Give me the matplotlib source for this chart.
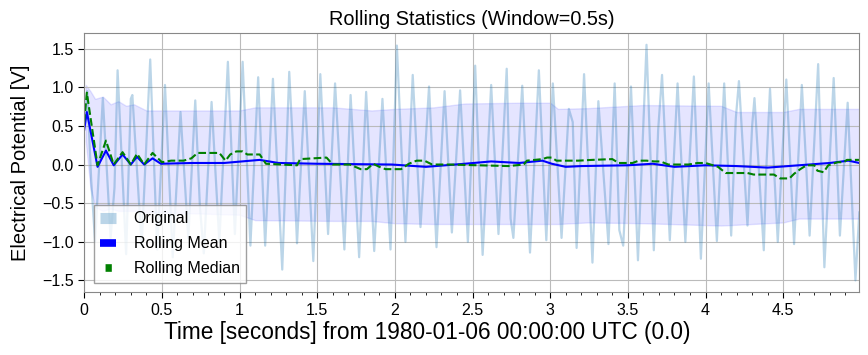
import numpy as np
import matplotlib
matplotlib.use('Agg')
import matplotlib.pyplot as plt
from matplotlib.ticker import MultipleLocator, FuncFormatter

plt.rcParams['font.family'] = ['Liberation Sans', 'DejaVu Sans']

# turning points of the raw signal (seconds, volts)
peak_t = [0.02, 0.12, 0.215, 0.31, 0.425, 0.52, 0.62, 0.715, 0.82, 0.925,
          1.02, 1.12, 1.215, 1.32, 1.42, 1.52, 1.615, 1.715, 1.815, 1.92,
          2.013, 2.115, 2.22, 2.32, 2.42, 2.517, 2.62, 2.72, 2.82, 2.927,
          3.017, 3.12, 3.218, 3.31, 3.415, 3.52, 3.62, 3.72, 3.82, 3.925,
          4.02, 4.12, 4.215, 4.315, 4.415, 4.52, 4.62, 4.725, 4.825, 4.915]
peak_v = [0.95, 0.86, 1.22, 0.90, 1.36, 1.03, 0.68, 0.83, 0.81, 1.33,
          1.33, 1.13, 1.11, 1.20, 0.95, 1.17, 1.05, 0.90, 0.94, 0.85,
          1.54, 1.16, 1.01, 0.95, 0.96, 1.28, 1.03, 1.24, 1.02, 1.22,
          1.05, 0.72, 1.17, 0.82, 1.05, 1.01, 1.55, 1.16, 1.05, 1.14,
          1.05, 1.05, 1.08, 0.86, 0.98, 1.10, 1.03, 1.30, 1.12, 0.80]
trough_t = [0.07, 0.17, 0.27, 0.37, 0.47, 0.57, 0.67, 0.77, 0.87, 0.97,
            1.07, 1.165, 1.275, 1.37, 1.475, 1.57, 1.675, 1.77, 1.867, 1.972,
            2.068, 2.165, 2.268, 2.367, 2.47, 2.565, 2.667, 2.763, 2.87, 2.975,
            3.073, 3.17, 3.272, 3.375, 3.47, 3.565, 3.667, 3.77, 3.87, 3.97,
            4.073, 4.165, 4.27, 4.375, 4.465, 4.57, 4.67, 4.765, 4.865, 4.965]
trough_v = [-1.00, -0.95, -1.16, -1.05, -1.10, -1.20, -0.95, -1.15, -1.00, -0.90,
            -1.05, -1.05, -1.36, -1.02, -1.25, -0.90, -1.10, -1.20, -1.12, -1.10,
            -1.00, -0.81, -1.07, -0.88, -1.00, -1.17, -0.90, -0.95, -1.14, -0.98,
            -0.95, -1.08, -1.27, -1.03, -1.05, -1.24, -1.11, -0.98, -1.00, -1.22,
            -0.99, -0.92, -0.79, -1.11, -1.00, -1.03, -0.92, -1.33, -0.92, -1.50]
# shoulders / kinks on some of the slopes
kink_t = [0.045, 0.195, 0.30, 0.745, 1.345, 2.54, 2.745, 3.145, 3.445, 3.695,
          4.195, 4.30, 4.39, 4.645]
kink_v = [-0.20, -0.30, 0.85, -0.55, 0.20, 0.05, -0.70, 0.55, -0.85, 0.45,
          0.60, 0.50, -0.10, 0.10]
edge_t = [0.0, 4.99]
edge_v = [0.55, -0.62]

# rolling mean (window 0.5 s)
mean_t = [0.0, 0.017, 0.086, 0.14, 0.19, 0.247, 0.30, 0.34, 0.386, 0.44, 0.494,
          0.7, 0.9, 1.13, 1.25, 1.5, 1.98, 2.2, 2.45, 2.62, 2.8, 2.95, 3.01,
          3.1, 3.2, 3.5, 3.66, 3.8, 4.0, 4.2, 4.4, 4.6, 4.8, 4.92, 4.99]
mean_v = [0.45, 0.68, -0.03, 0.18, -0.01, 0.13, 0.0, 0.10, 0.0, 0.08, 0.01,
          0.02, 0.02, 0.06, 0.02, 0.01, 0.0, -0.03, 0.01, 0.04, 0.02, 0.05, 0.01,
          -0.03, -0.02, -0.01, 0.01, -0.03, -0.01, -0.02, -0.04, -0.01, 0.02, 0.05, 0.02]

# rolling median
median_t = [0.0, 0.017, 0.086, 0.14, 0.19, 0.247, 0.30, 0.34, 0.386, 0.44, 0.50,
            0.56, 0.64, 0.69, 0.73, 0.87, 0.91, 0.94, 0.98, 1.02, 1.05, 1.13,
            1.17, 1.37, 1.39, 1.56, 1.60, 1.71, 1.78, 1.82, 1.86, 1.90, 1.94, 2.04,
            2.09, 2.14, 2.19, 2.24, 2.35, 2.73, 2.83, 2.85, 2.95, 2.98, 3.01, 3.04,
            3.18, 3.27, 3.40, 3.44, 3.53, 3.57, 3.62, 3.67, 3.71, 3.76, 3.89, 3.95,
            4.0, 4.08, 4.13, 4.27, 4.31, 4.44, 4.48, 4.54, 4.57, 4.61, 4.65, 4.70,
            4.72, 4.76, 4.79, 4.85, 4.89, 4.91, 4.99]
median_v = [0.55, 0.93, -0.01, 0.31, 0.0, 0.16, 0.0, 0.14, 0.0, 0.15, 0.03,
            0.05, 0.05, 0.08, 0.15, 0.15, 0.05, 0.13, 0.17, 0.17, 0.13, 0.13,
            0.01, -0.01, 0.07, 0.09, 0.0, 0.0, -0.06, -0.06, 0.01, -0.03, -0.06, -0.06,
            0.01, 0.05, 0.05, 0.0, 0.0, -0.02, 0.0, 0.05, 0.07, 0.09, 0.09, 0.05,
            0.05, 0.06, 0.07, 0.02, 0.02, 0.05, 0.05, 0.04, 0.04, 0.0, 0.0, 0.02,
            0.02, -0.03, -0.11, -0.11, -0.13, -0.13, -0.18, -0.18, -0.12, -0.06, -0.01, -0.01,
            -0.08, -0.10, -0.01, 0.03, 0.03, 0.06, 0.06]

# mean +/- std band edges
band_t = [0.01, 0.04, 0.07, 0.12, 0.17, 0.22, 0.27, 0.32, 0.4, 0.5, 0.84, 1.0,
          1.1, 1.6, 1.85, 2.0, 2.25, 2.45, 2.8, 3.0, 3.05, 3.24, 3.6, 4.1,
          4.2, 4.5, 4.6, 4.99]
band_hi = [1.03, 0.95, 0.85, 0.88, 0.78, 0.82, 0.76, 0.78, 0.70, 0.70, 0.70, 0.70,
           0.74, 0.74, 0.70, 0.72, 0.74, 0.79, 0.80, 0.80, 0.72, 0.73, 0.77, 0.76,
           0.68, 0.68, 0.72, 0.72]
band_lo = [0.30, -0.30, -0.55, -0.60, -0.57, -0.60, -0.60, -0.60, -0.62, -0.62, -0.64, -0.65,
           -0.72, -0.73, -0.73, -0.76, -0.77, -0.77, -0.77, -0.77, -0.77, -0.75, -0.76, -0.79,
           -0.78, -0.75, -0.70, -0.70]

sig_t = np.concatenate([edge_t, peak_t, trough_t, kink_t])
sig_v = np.concatenate([edge_v, peak_v, trough_v, kink_v])
order = np.argsort(sig_t)
sig_t, sig_v = sig_t[order], sig_v[order]

fig, ax = plt.subplots(figsize=(8.68, 3.55), dpi=100)
fig.subplots_adjust(left=0.097, right=0.99, top=0.907, bottom=0.177)

ax.plot(sig_t, sig_v, color='#1f77b4', alpha=0.3, lw=1.6, label='Original')
ax.fill_between(band_t, band_lo, band_hi, color='blue', alpha=0.1)
ax.plot(mean_t, mean_v, color='blue', lw=1.5, label='Rolling Mean')
ax.plot(median_t, median_v, color='green', lw=1.5, ls='--', label='Rolling Median')

ax.set_xlim(0, 4.99)
ax.xaxis.set_major_locator(MultipleLocator(0.5))
ax.xaxis.set_minor_locator(MultipleLocator(0.1))
ax.xaxis.set_major_formatter(FuncFormatter(lambda v, p: '%g' % v))
ax.yaxis.set_major_locator(MultipleLocator(0.5))
ax.tick_params(which='both', direction='out', labelsize=11.5)
ax.tick_params(which='major', length=4)
ax.tick_params(which='minor', length=2.5)
ax.grid(True, color='#bbbbbb', lw=0.8)
for s in ax.spines.values():
    s.set_color('#888888')

ax.set_title('Rolling Statistics (Window=0.5s)', fontsize=14.3)
ax.set_xlabel('Time [seconds] from 1980-01-06 00:00:00 UTC (0.0)', fontsize=16.3)
ax.xaxis.set_label_coords(0.443, -0.11)
ax.set_ylabel('Electrical Potential [V]', fontsize=14.5)
ax.yaxis.set_label_coords(-0.07, 0.5)

leg = ax.legend(loc='lower left', fontsize=11.5, handlelength=1.0, handletextpad=1.1,
                labelspacing=0.62, edgecolor='#888888', fancybox=False,
                borderaxespad=0.6)
lw_h = 5.5
for h in leg.get_lines():
    h.set_linewidth(lw_h)
    h.set_solid_capstyle('butt')
med = leg.get_lines()[2]
med.set_linestyle((0, (0.001, 4.0 / lw_h, 4.5 / lw_h, 20.0 / lw_h)))
orig = leg.get_lines()[0]
orig.set_linewidth(8)

plt.savefig('out.png', dpi=100)
